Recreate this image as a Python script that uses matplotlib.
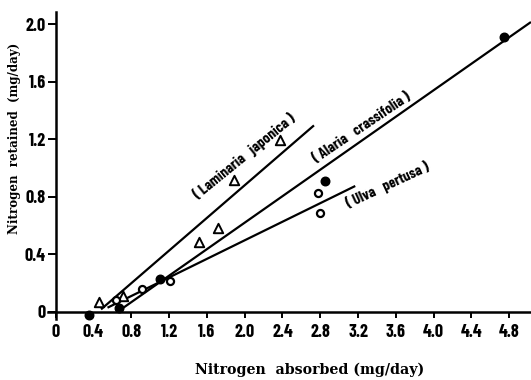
import matplotlib.pyplot as plt

# nitrogen absorbed vs retained (mg/day)
laminaria_x = [0.46, 0.71, 1.52, 1.72, 1.89, 2.37]
laminaria_y = [0.065, 0.105, 0.485, 0.58, 0.915, 1.19]
alaria_x = [0.35, 0.67, 1.10, 2.85, 4.74]
alaria_y = [-0.025, 0.025, 0.226, 0.908, 1.91]
ulva_x = [0.64, 0.91, 1.21, 2.78, 2.80]
ulva_y = [0.08, 0.16, 0.21, 0.826, 0.687]

# fitted lines, start and end points
laminaria_fit_x = [0.49, 2.725]
laminaria_fit_y = [0.02, 1.29]
alaria_fit_x = [0.66, 5.02]
alaria_fit_y = [0.0, 2.01]
ulva_fit_x = [0.56, 3.16]
ulva_fit_y = [0.03, 0.87]

xticks = [0, 0.4, 0.8, 1.2, 1.6, 2.0, 2.4, 2.8, 3.2, 3.6, 4.0, 4.4, 4.8]
xtick_labels = ["0", "0.4", "0.8", "1.2", "1.6", "2.0", "2.4", "2.8",
                "3.2", "3.6", "4.0", "4.4", "4.8"]
yticks = [0, 0.4, 0.8, 1.2, 1.6, 2.0]
ytick_labels = ["0", "0.4", "0.8", "1.2", "1.6", "2.0"]

narrow = ["Barlow Condensed", "DejaVu Sans"]
serif = ["DejaVu Serif"]

fig = plt.figure(figsize=(5.31, 3.80), dpi=100)
ax = fig.add_axes([0.0904, 0.1613, 0.9096, 0.8067])
ax.set_xlim(-0.08, 5.03)
ax.set_ylim(-0.05, 2.083)

for sp in ["top", "right"]:
    ax.spines[sp].set_visible(False)
ax.spines["left"].set_position(("data", 0))
ax.spines["bottom"].set_position(("data", 0))
ax.spines["left"].set_linewidth(1.8)
ax.spines["bottom"].set_linewidth(1.8)

ax.plot(laminaria_fit_x, laminaria_fit_y, color="black", lw=1.6)
ax.plot(alaria_fit_x, alaria_fit_y, color="black", lw=1.6, clip_on=False)
ax.plot(ulva_fit_x, ulva_fit_y, color="black", lw=1.6)

ax.scatter(laminaria_x, laminaria_y, marker="^", s=46, facecolors="white",
           edgecolors="black", linewidths=1.4, zorder=3)
ax.scatter(alaria_x, alaria_y, marker="o", s=38, color="black", zorder=3,
           clip_on=False)
ax.scatter(ulva_x, ulva_y, marker="o", s=26, facecolors="white",
           edgecolors="black", linewidths=1.6, zorder=3)

ax.set_xticks(xticks)
ax.set_xticklabels(xtick_labels, family=narrow, weight="bold", fontsize=13)
ax.set_yticks(yticks)
ax.set_yticklabels(ytick_labels, family=narrow, weight="bold", fontsize=13)
ax.tick_params(axis="x", direction="out", length=4, width=1.4, pad=5)
ax.tick_params(axis="y", direction="out", length=6, width=1.4, pad=1)

ax.text(2.0, 1.08, "( Laminaria   japonica )", rotation=39, ha="center",
        va="center", family=narrow, weight="bold", fontsize=10.8)
ax.text(3.245, 1.276, "( Alaria   crassifolia )", rotation=34, ha="center",
        va="center", family=narrow, weight="bold", fontsize=10.8)
ax.text(3.515, 0.88, "( Ulva   pertusa )", rotation=25, ha="center",
        va="center", family=narrow, weight="bold", fontsize=10.8)

fig.text(310 / 531, 1 - 370 / 380, "Nitrogen  absorbed (mg/day)",
         ha="center", va="center", family=serif, weight="bold", fontsize=10.2)
fig.text(15 / 531, 1 - 138 / 380, "Nitrogen  retained  (mg/day)",
         ha="center", va="center", rotation=90, family=serif, weight="bold",
         fontsize=8.6)

fig.savefig("out.png", dpi=100)
